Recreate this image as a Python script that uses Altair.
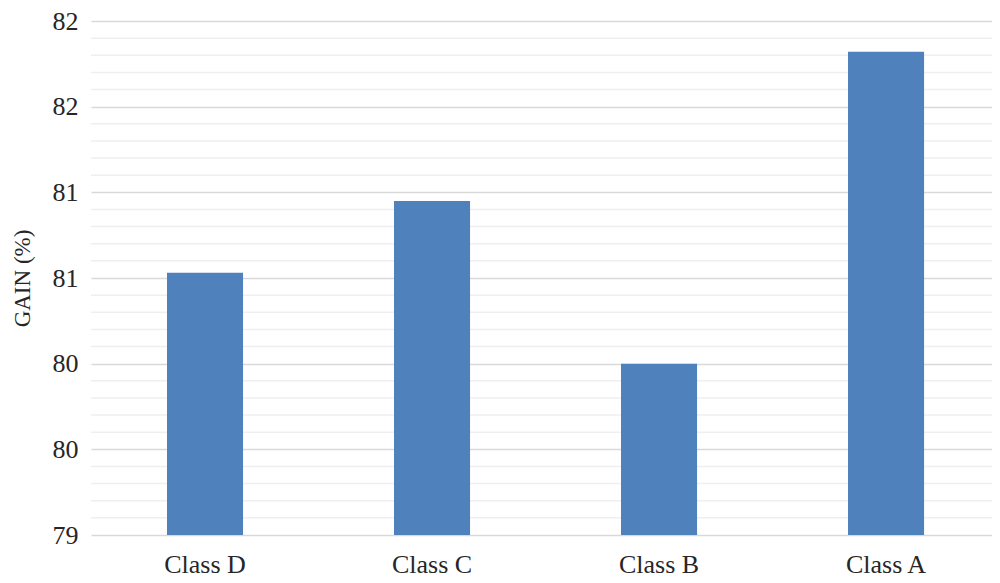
import altair as alt
import pandas as pd

categories = ["Class D", "Class C", "Class B", "Class A"]
gains = [80.53, 80.95, 80.0, 81.82]
major_ticks = [79.0, 79.5, 80.0, 80.5, 81.0, 81.5, 82.0]
minor_ticks = [79.1, 79.2, 79.3, 79.4, 79.6, 79.7, 79.8, 79.9,
               80.1, 80.2, 80.3, 80.4, 80.6, 80.7, 80.8, 80.9,
               81.1, 81.2, 81.3, 81.4, 81.6, 81.7, 81.8, 81.9]

df = pd.DataFrame({"cat": categories, "gain": gains})
df_minor = pd.DataFrame({"gain": minor_ticks})

FONT = "Liberation Serif"
TXT = "#262626"
yscale = alt.Scale(domain=[79, 82], nice=False, zero=False)
yaxis = alt.Axis(values=major_ticks, format=".0f", labelFont=FONT,
                 labelFontSize=26, labelColor=TXT, labelPadding=13,
                 ticks=False, domain=False, grid=True,
                 gridColor="#d9d9d9", gridWidth=1.5,
                 titleFont=FONT, titleFontSize=23, titleFontWeight="normal",
                 titleColor=TXT, titlePadding=18)

minor = alt.Chart(df_minor).mark_rule(color="#efefef", strokeWidth=1.5).encode(
    y=alt.Y("gain:Q", scale=yscale, title="GAIN (%)", axis=yaxis)
)

bars = alt.Chart(df).mark_bar(color="#4F81BD", clip=True).encode(
    x=alt.X("cat:N", sort=categories, title=None,
            scale=alt.Scale(paddingInner=0.665, paddingOuter=0.317, align=0.528),
            axis=alt.Axis(labelAngle=0, labelFont=FONT, labelFontSize=26,
                          labelColor=TXT, labelPadding=16, ticks=False,
                          domain=False, grid=False)),
    y=alt.Y("gain:Q", scale=yscale, title="GAIN (%)", axis=yaxis),
)

chart = alt.layer(minor, bars).properties(
    width=901, height=514,
    autosize=alt.AutoSizeParams(type="none"),
    padding={"left": 83, "top": 13, "right": 0, "bottom": 48},
).configure_view(stroke=None)

chart.save("out.html", embed_options={"renderer": "svg", "actions": False})
